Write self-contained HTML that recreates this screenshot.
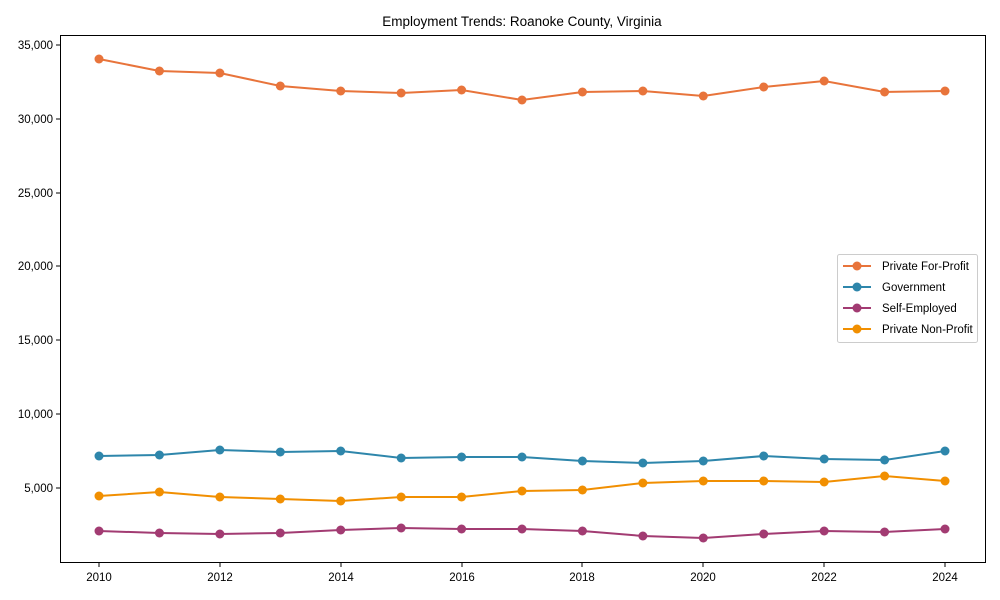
<!DOCTYPE html>
<html><head><meta charset="utf-8"><style>
body{margin:0;background:#fff;}
svg{display:block;font-family:"Liberation Sans",Arial,sans-serif;}
</style></head><body>
<svg width="1000" height="600" viewBox="0 0 1000 600">
<rect width="1000" height="600" fill="#fff"/>
<text x="522" y="26" font-size="13.5" text-anchor="middle" fill="#000">Employment Trends: Roanoke County, Virginia</text>
<rect x="60.5" y="35.5" width="925" height="527" fill="none" stroke="#000" stroke-width="1"/>
<g font-size="11.5" fill="#000" text-anchor="end">
<line x1="56" x2="60" y1="45" y2="45" stroke="#000"/><text x="53" y="49">35,000</text>
<line x1="56" x2="60" y1="119" y2="119" stroke="#000"/><text x="53" y="123">30,000</text>
<line x1="56" x2="60" y1="193" y2="193" stroke="#000"/><text x="53" y="197">25,000</text>
<line x1="56" x2="60" y1="266" y2="266" stroke="#000"/><text x="53" y="270">20,000</text>
<line x1="56" x2="60" y1="340" y2="340" stroke="#000"/><text x="53" y="344">15,000</text>
<line x1="56" x2="60" y1="414" y2="414" stroke="#000"/><text x="53" y="418">10,000</text>
<line x1="56" x2="60" y1="488" y2="488" stroke="#000"/><text x="53" y="492">5,000</text>
</g>
<g font-size="11.5" fill="#000" text-anchor="middle" stroke-width="1">
<line x1="99" x2="99" y1="563" y2="567" stroke="#000"/><text x="99" y="581">2010</text>
<line x1="220" x2="220" y1="563" y2="567" stroke="#000"/><text x="220" y="581">2012</text>
<line x1="341" x2="341" y1="563" y2="567" stroke="#000"/><text x="341" y="581">2014</text>
<line x1="462" x2="462" y1="563" y2="567" stroke="#000"/><text x="462" y="581">2016</text>
<line x1="582" x2="582" y1="563" y2="567" stroke="#000"/><text x="582" y="581">2018</text>
<line x1="703" x2="703" y1="563" y2="567" stroke="#000"/><text x="703" y="581">2020</text>
<line x1="824" x2="824" y1="563" y2="567" stroke="#000"/><text x="824" y="581">2022</text>
<line x1="945" x2="945" y1="563" y2="567" stroke="#000"/><text x="945" y="581">2024</text>
</g>
<script>
const xs=i=>99+i*60.43;
const series=[
["#e8743b",[59,71,73,86,91,93,90,100,92,91,96,87,81,92,91]],
["#2e86ab",[456,455,450,452,451,458,457,457,461,463,461,456,459,460,451]],
["#a23b72",[531,533,534,533,530,528,529,529,531,536,538,534,531,532,529]],
["#f18f01",[496,492,497,499,501,497,497,491,490,483,481,481,482,476,481]]];
const svg=document.querySelector('svg');const NS="http://www.w3.org/2000/svg";
series.forEach(([c,ys])=>{
 const p=document.createElementNS(NS,'polyline');
 p.setAttribute('points',ys.map((y,i)=>xs(i)+','+y).join(' '));
 p.setAttribute('fill','none');p.setAttribute('stroke',c);p.setAttribute('stroke-width','2');svg.appendChild(p);
 ys.forEach((y,i)=>{const ci=document.createElementNS(NS,'circle');ci.setAttribute('cx',xs(i));ci.setAttribute('cy',y);ci.setAttribute('r','4.5');ci.setAttribute('fill',c);svg.appendChild(ci);});
});
</script>
<rect x="837.5" y="254.5" width="140" height="88" fill="#fff" stroke="#ccc" rx="2"/>
<g font-size="11.5" fill="#000">
<line x1="843" x2="871" y1="266" y2="266" stroke="#e8743b" stroke-width="2"/><circle cx="857" cy="266" r="4.5" fill="#e8743b"/><text x="882" y="270">Private For-Profit</text>
<line x1="843" x2="871" y1="287" y2="287" stroke="#2e86ab" stroke-width="2"/><circle cx="857" cy="287" r="4.5" fill="#2e86ab"/><text x="882" y="291">Government</text>
<line x1="843" x2="871" y1="308" y2="308" stroke="#a23b72" stroke-width="2"/><circle cx="857" cy="308" r="4.5" fill="#a23b72"/><text x="882" y="312">Self-Employed</text>
<line x1="843" x2="871" y1="329" y2="329" stroke="#f18f01" stroke-width="2"/><circle cx="857" cy="329" r="4.5" fill="#f18f01"/><text x="882" y="333">Private Non-Profit</text>
</g>
</svg>
</body></html>
